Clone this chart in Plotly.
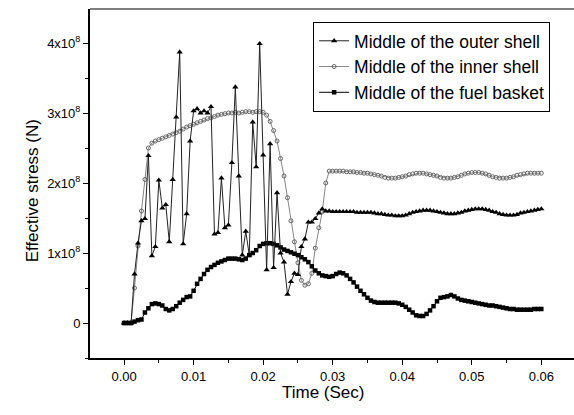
import plotly.graph_objects as go

# time step of the sampled series (s)
t_start = 0.0
t_step = 0.0005

# values in units of 1e8 N, one row = 0.005 s (10 samples)
outer_shell = [
    0, 0, 0, 0.7, 1.14, 1.46, 1.49, 2.39, 0.96, 1.09,
    2.04, 1.64, 1.69, 1.16, 2.05, 2.94, 3.87, 1.13, 1.56, 2.6,
    3.03, 3.06, 3.0, 3.03, 3.0, 3.09, 1.27, 1.29, 2.07, 1.36,
    1.4, 2.29, 3.37, 2.1, 0.97, 1.31, 0.97, 2.87, 2.23, 3.99,
    2.4, 0.76, 2.56, 0.79, 1.86, 1.0, 0.87, 0.41, 0.59, 0.71,
    0.69, 1.09, 1.2, 1.44, 1.44, 1.49, 1.57, 1.63, 1.6, 1.6,
    1.59, 1.59, 1.59, 1.59, 1.59, 1.59, 1.59, 1.58, 1.58, 1.58,
    1.58, 1.58, 1.57, 1.56, 1.56, 1.55, 1.54, 1.54, 1.53, 1.53,
    1.53, 1.54, 1.56, 1.58, 1.59, 1.6, 1.61, 1.61, 1.61, 1.6,
    1.59, 1.58, 1.57, 1.56, 1.56, 1.56, 1.57, 1.58, 1.6, 1.61,
    1.62, 1.63, 1.63, 1.63, 1.62, 1.61, 1.59, 1.58, 1.56, 1.55,
    1.54, 1.54, 1.54, 1.55, 1.57, 1.58, 1.59, 1.6, 1.61, 1.62,
    1.63,
]

inner_shell = [
    0, 0, 0, 0.5, 1.1, 1.6, 2.05, 2.5, 2.57, 2.6,
    2.62, 2.64, 2.66, 2.68, 2.7, 2.72, 2.74, 2.77, 2.8, 2.82,
    2.84, 2.86, 2.88, 2.9, 2.92, 2.93, 2.95, 2.97, 2.98, 2.99,
    3.0, 3.0, 3.01, 3.0, 3.01, 3.02, 3.02, 3.01, 3.02, 3.02,
    3.01, 2.97, 2.88, 2.75, 2.6, 2.35, 2.1, 1.79, 1.46, 1.16,
    0.86, 0.61, 0.54, 0.56, 0.71, 1.07, 1.36, 1.59, 2.0, 2.17,
    2.17, 2.17, 2.17, 2.17, 2.16, 2.16, 2.16, 2.15, 2.15, 2.14,
    2.14, 2.13, 2.12, 2.11, 2.1, 2.08, 2.07, 2.07, 2.07, 2.08,
    2.09, 2.1, 2.12, 2.13, 2.14, 2.14, 2.14, 2.13, 2.12, 2.11,
    2.1, 2.08, 2.07, 2.07, 2.07, 2.08, 2.09, 2.11, 2.13, 2.14,
    2.15, 2.15, 2.15, 2.14, 2.13, 2.11, 2.09, 2.08, 2.07, 2.07,
    2.07, 2.08, 2.09, 2.11, 2.12, 2.13, 2.14, 2.14, 2.14, 2.14,
    2.14,
]

fuel_basket = [
    0, 0, 0, 0.02, 0.04, 0.05, 0.15, 0.21, 0.27, 0.28,
    0.27, 0.25, 0.2, 0.18, 0.2, 0.24, 0.29, 0.33, 0.37, 0.38,
    0.46, 0.56, 0.63, 0.7, 0.76, 0.8, 0.83, 0.86, 0.88, 0.9,
    0.92, 0.92, 0.92, 0.91, 0.9, 0.92, 0.97, 1.0, 1.04, 1.1,
    1.13, 1.14, 1.14, 1.13, 1.11, 1.08, 1.05, 1.03, 1.01, 0.99,
    0.97, 0.94, 0.91, 0.87, 0.81, 0.75, 0.71, 0.68, 0.67, 0.66,
    0.67, 0.7, 0.72, 0.71, 0.68, 0.63, 0.58, 0.52, 0.46, 0.41,
    0.36, 0.32, 0.3, 0.29, 0.29, 0.29, 0.29, 0.29, 0.29, 0.28,
    0.26, 0.23, 0.19, 0.15, 0.11, 0.1, 0.1, 0.13, 0.18, 0.24,
    0.31, 0.36, 0.37, 0.38, 0.4, 0.38, 0.35, 0.33, 0.32, 0.31,
    0.3, 0.29, 0.28, 0.27, 0.26, 0.25, 0.25, 0.24, 0.23, 0.22,
    0.21, 0.2, 0.2, 0.19, 0.19, 0.19, 0.19, 0.19, 0.2, 0.2,
    0.2,
]

y_unit = 1e8
y_tick_vals = [0, 1, 2, 3, 4]
y_tick_text = ["0", "1x10<sup>8</sup>", "2x10<sup>8</sup>", "3x10<sup>8</sup>", "4x10<sup>8</sup>"]
x_tick_vals = [0.0, 0.01, 0.02, 0.03, 0.04, 0.05, 0.06]
x_tick_text = ["0.00", "0.01", "0.02", "0.03", "0.04", "0.05", "0.06"]

labels = ["Middle of the outer shell", "Middle of the inner shell", "Middle of the fuel basket"]


def times(vals):
    return [round(t_start + i * t_step, 5) for i in range(len(vals))]


def scale(vals):
    return [v * y_unit for v in vals]


fig = go.Figure()
fig.add_trace(go.Scatter(
    x=times(inner_shell), y=scale(inner_shell), name=labels[1], mode="lines+markers",
    line=dict(color="#888888", width=1),
    marker=dict(symbol="circle-open", size=4, color="#666666", line=dict(width=1)),
))
fig.add_trace(go.Scatter(
    x=times(fuel_basket), y=scale(fuel_basket), name=labels[2], mode="lines+markers",
    line=dict(color="black", width=1),
    marker=dict(symbol="square", size=4.5, color="black"),
))
fig.add_trace(go.Scatter(
    x=times(outer_shell), y=scale(outer_shell), name=labels[0], mode="lines+markers",
    line=dict(color="#222222", width=1),
    marker=dict(symbol="triangle-up", size=5.5, color="black"),
))

# legend order: outer, inner, fuel
fig.data[2].legendrank = 1
fig.data[0].legendrank = 2
fig.data[1].legendrank = 3

fig.update_layout(
    width=574, height=415,
    margin=dict(l=90, r=0, t=9, b=57),
    paper_bgcolor="white", plot_bgcolor="white",
    font=dict(family="Liberation Sans, Arial, sans-serif", color="black", size=13),
    showlegend=True,
    legend=dict(
        x=0.461, y=0.963, xanchor="left", yanchor="top",
        bgcolor="white", bordercolor="black", borderwidth=1,
        font=dict(size=17.5), tracegroupgap=0, itemwidth=30,
    ),
    xaxis=dict(
        range=[-0.0049, 0.0647], showgrid=False, zeroline=False,
        showline=True, linecolor="black", linewidth=2,
        ticks="outside", ticklen=5, tickwidth=1, tickcolor="black",
        tickvals=x_tick_vals, ticktext=x_tick_text,
        minor=dict(ticks="outside", ticklen=3, dtick=0.005, tick0=0, tickcolor="black"),
    ),
    yaxis=dict(
        range=[-0.5e8, 4.486e8], showgrid=False, zeroline=False,
        showline=True, linecolor="black", linewidth=2,
        ticks="outside", ticklen=5, tickwidth=1, tickcolor="black",
        tickvals=[v * y_unit for v in y_tick_vals], ticktext=y_tick_text,
        minor=dict(ticks="outside", ticklen=3, dtick=0.5e8, tick0=0, tickcolor="black"),
    ),
    shapes=[dict(type="line", xref="paper", yref="paper", x0=0, x1=1, y0=1, y1=1,
                 line=dict(color="black", width=1))],
    annotations=[
        dict(text="Time (Sec)", xref="paper", yref="paper", x=0.483, y=-0.10,
             xanchor="center", yanchor="middle", showarrow=False, font=dict(size=17)),
        dict(text="Effective stress (N)", xref="paper", yref="paper", x=-0.118, y=0.48,
             xanchor="center", yanchor="middle", showarrow=False, textangle=-90,
             font=dict(size=17)),
    ],
)

fig.write_html("out.html")
